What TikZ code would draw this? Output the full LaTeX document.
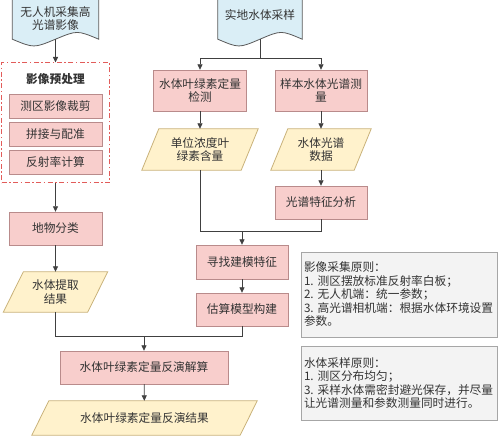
\documentclass[tikz,border=0pt]{standalone}
\usepackage{fontspec}
\newfontfamily\cjk{Noto Sans CJK SC}
\usetikzlibrary{arrows.meta,calc,backgrounds}

\definecolor{procfill}{HTML}{F8CECC}
\definecolor{procline}{HTML}{B98B8B}
\definecolor{datafill}{HTML}{FFF2CC}
\definecolor{dataline}{HTML}{C9B27A}
\definecolor{docfill}{HTML}{DAEEF6}
\definecolor{docline}{HTML}{5A5A5A}
\definecolor{notefill}{HTML}{F3F3F3}
\definecolor{noteline}{HTML}{A6A6A6}
\definecolor{prepline}{HTML}{E25C5A}
\definecolor{txt}{HTML}{333333}

\begin{document}
\begin{tikzpicture}[
  x=1pt, y=-1pt,
  font=\cjk\fontsize{11.7}{13.5}\selectfont,
  >={Triangle[length=5.5pt,width=5pt]},
  proc/.style={draw=procline, fill=procfill, text=txt, align=center, minimum width=93pt, inner sep=2pt},
  data/.style={text=txt, align=center, inner sep=2pt},
  doc/.style={text=txt, align=center, minimum width=86pt, minimum height=41pt, inner sep=2pt},
  note/.style={draw=noteline, fill=notefill, text=txt, align=left, text width=190pt, minimum width=196pt, inner sep=3pt},
  line/.style={draw=black!75, line width=0.8pt},
  prepbox/.style={draw=prepline, line width=1pt, dash pattern=on 5pt off 2.5pt on 1.5pt off 2.5pt, minimum width=108pt, minimum height=120pt}
]
\useasboundingbox (0,0) rectangle (499,436);

% left column: UAV imagery
\node[doc] (doc1) at (55.5,18.5) {无人机采集高\\光谱影像};
\node[prepbox] (prep) at (55.5,123) {};
\node[text=txt] (preptitle) at (55.5,79) {\bfseries 影像预处理};
\node[proc, minimum height=24pt] (crop) at (55.5,106.5) {测区影像裁剪};
\node[proc, minimum height=24pt] (mosaic) at (55.5,134.5) {拼接与配准};
\node[proc, minimum height=24pt] (refl) at (55.5,162) {反射率计算};
\node[proc, minimum height=33pt] (cls) at (55.5,228.5) {地物分类};
\node[data, minimum width=84pt, minimum height=40pt] (ext) at (55.5,292) {水体提取\\结果};

% right columns: field sampling
\node[doc, minimum width=84pt, text depth=8pt] (doc2) at (260,18.5) {实地水体采样};
\node[proc, minimum height=41pt] (chl) at (200,90.5) {水体叶绿素定量\\检测};
\node[proc, minimum width=92pt, minimum height=41pt] (spec) at (321,90.5) {样本水体光谱测\\量};
\node[data, minimum width=99pt, minimum height=41pt] (conc) at (200,149.5) {单位浓度叶\\绿素含量};
\node[data, minimum width=83pt, minimum height=41pt] (specdata) at (321,149.5) {水体光谱\\数据};
\node[proc, minimum width=92pt, minimum height=33pt] (feat) at (321,202.5) {光谱特征分析};
\node[proc, minimum width=92pt, minimum height=34pt] (find) at (242,262) {寻找建模特征};
\node[proc, minimum width=92pt, minimum height=33pt] (model) at (242,309.5) {估算模型构建};

% bottom
\node[proc, minimum width=168pt, minimum height=33pt] (solve) at (144,367.5) {水体叶绿素定量反演解算};
\node[data, minimum width=208pt, minimum height=34pt] (result) at (144.5,418) {水体叶绿素定量反演结果};

% notes
\node[note, minimum height=85pt] (rule1) at (399,294.5) {影像采集原则：\\1.~测区摆放标准反射率白板；\\2.~无人机端：统一参数；\\3.~高光谱相机端：根据水体环境设置\\参数。};
\node[note, minimum height=74pt] (rule2) at (399,383) {水体采样原则：\\1.~测区分布均匀；\\3.~采样水体需密封避光保存，并尽量\\让光谱测量和参数测量同时进行。};

% shapes behind the text
\begin{pgfonlayer}{background}
\foreach \n in {doc1,doc2} {
  \draw[draw=docline, fill=docfill, line width=0.8pt] (\n.south east) -- (\n.north east) -- (\n.north west) -- (\n.south west)
    .. controls ($(\n.south west)!0.5!(\n.south)+(0,9)$) .. (\n.south)
    .. controls ($(\n.south)!0.5!(\n.south east)+(0,-9)$) .. (\n.south east) -- cycle;
}
\foreach \n/\s in {conc/17,specdata/17,ext/20,result/17} {
  \draw[draw=dataline, fill=datafill, line width=0.8pt] ($(\n.south west)+(-\s/2,0)$) -- ($(\n.south east)+(-\s/2,0)$)
    -- ($(\n.north east)+(\s/2,0)$) -- ($(\n.north west)+(\s/2,0)$) -- cycle;
}
\end{pgfonlayer}

% connectors
\draw[line,->] (doc1.south) -- (prep.north);
\draw[line,->] (prep.south) -- (cls.north);
\draw[line,->] (cls) -- (ext);

\path (doc2.south) ++(0,19) coordinate (split);
\draw[line] (doc2.south) -- (split);
\draw[line,->] (split) -| (chl.north);
\draw[line,->] (split) -| (spec.north);
\draw[line,->] (chl) -- (conc);
\draw[line,->] (spec) -- (specdata);
\draw[line,->] (specdata) -- (feat);

\path (find.north) ++(0,-13) coordinate (gather);
\draw[line] (conc.south) |- (gather) -| (feat.south);
\draw[line,->] (gather) -- (find.north);
\draw[line,->] (find) -- (model);

\path (solve.north) ++(0,-14) coordinate (merge);
\draw[line] (ext.south) |- (merge) -| (model.south);
\draw[line,->] (merge) -- (solve.north);
\draw[line,->] (solve) -- (result);

\end{tikzpicture}
\end{document}
